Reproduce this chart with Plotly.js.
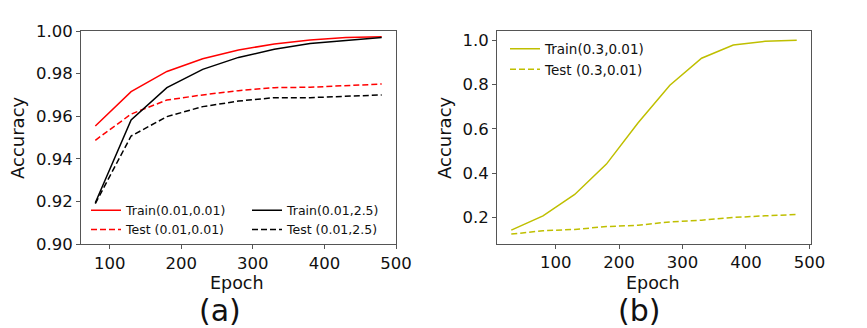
<!DOCTYPE html>
<html>
<head>
<meta charset="utf-8">
<script src="https://cdn.plot.ly/plotly-3.0.1.min.js"></script>
<style>html,body{margin:0;padding:0;background:#fff;}#chart{width:867px;height:328px;}</style>
</head>
<body>
<div id="chart"></div>
<script>
// Panel (a)
const epochsA = [80, 130, 180, 230, 280, 330, 380, 430, 480];
const trainA1 = [0.9554, 0.9715, 0.9810, 0.9870, 0.9911, 0.9939, 0.9958, 0.9969, 0.9973];
const testA1  = [0.9487, 0.9610, 0.9676, 0.9700, 0.9720, 0.9734, 0.9736, 0.9743, 0.9751];
const trainA2 = [0.9194, 0.9582, 0.9734, 0.9820, 0.9876, 0.9914, 0.9941, 0.9956, 0.9969];
const testA2  = [0.9190, 0.9507, 0.9598, 0.9645, 0.9671, 0.9687, 0.9687, 0.9693, 0.9700];
// Panel (b)
const epochsB = [30, 80, 130, 180, 230, 280, 330, 380, 430, 480];
const trainB  = [0.143, 0.2075, 0.304, 0.441, 0.628, 0.797, 0.919, 0.979, 0.9955, 1.0];
const testB   = [0.125, 0.140, 0.146, 0.159, 0.165, 0.180, 0.188, 0.200, 0.2075, 0.2136];

const namesA = ['Train(0.01,0.01)', 'Test (0.01,0.01)', 'Train(0.01,2.5)', 'Test (0.01,2.5)'];
const namesB = ['Train(0.3,0.01)', 'Test (0.3,0.01)'];

const W = 867, H = 328;
const px = v => v / W, py = v => 1 - v / H;
const FONT = 'DejaVu Sans, sans-serif';
const DASH = '6px,3px';
const YEL = '#bfbf00';

const traces = [
  {x: epochsA, y: trainA1, name: namesA[0], mode: 'lines', line: {color: '#ff0000', width: 1.5}, xaxis: 'x', yaxis: 'y', legend: 'legend'},
  {x: epochsA, y: testA1, name: namesA[1], mode: 'lines', line: {color: '#ff0000', width: 1.5, dash: DASH}, xaxis: 'x', yaxis: 'y', legend: 'legend'},
  {x: epochsA, y: trainA2, name: namesA[2], mode: 'lines', line: {color: '#000000', width: 1.5}, xaxis: 'x', yaxis: 'y', legend: 'legend2'},
  {x: epochsA, y: testA2, name: namesA[3], mode: 'lines', line: {color: '#000000', width: 1.5, dash: DASH}, xaxis: 'x', yaxis: 'y', legend: 'legend2'},
  {x: epochsB, y: trainB, name: namesB[0], mode: 'lines', line: {color: YEL, width: 1.5}, xaxis: 'x2', yaxis: 'y2', legend: 'legend3'},
  {x: epochsB, y: testB, name: namesB[1], mode: 'lines', line: {color: YEL, width: 1.5, dash: DASH}, xaxis: 'x2', yaxis: 'y2', legend: 'legend3'}
];

const axCommon = {
  showgrid: false, zeroline: false, showline: true, mirror: true,
  linecolor: '#555', linewidth: 1, ticks: 'outside', ticklen: 4, tickcolor: '#555', tickwidth: 1,
  tickfont: {family: FONT, size: 16.5, color: '#111'}
};

const legCommon = {
  bgcolor: 'rgba(0,0,0,0)', borderwidth: 0, xanchor: 'left', yanchor: 'top',
  tracegroupgap: 0, itemwidth: 30
};

function ann(text, x, y, size, angle) {
  return {text: text, xref: 'paper', yref: 'paper', x: px(x), y: py(y), xanchor: 'center', yanchor: 'middle',
    showarrow: false, textangle: angle || 0, font: {family: FONT, size: size, color: '#111'}};
}

const layout = {
  width: W, height: H, margin: {l: 0, r: 0, t: 0, b: 0},
  paper_bgcolor: '#fff', plot_bgcolor: '#fff',
  showlegend: true,
  xaxis: Object.assign({}, axCommon, {domain: [px(81), px(396)], range: [60, 500], tickvals: [100, 200, 300, 400, 500], anchor: 'y'}),
  yaxis: Object.assign({}, axCommon, {domain: [py(244), py(31)], range: [0.90, 1.00], tickvals: [0.90, 0.92, 0.94, 0.96, 0.98, 1.00], tickformat: '.2f', anchor: 'x'}),
  xaxis2: Object.assign({}, axCommon, {domain: [px(497), px(811)], range: [7.5, 502.5], tickvals: [100, 200, 300, 400, 500], anchor: 'y2'}),
  yaxis2: Object.assign({}, axCommon, {domain: [py(243.5), py(30.7)], range: [0.0825, 1.0434], tickvals: [0.2, 0.4, 0.6, 0.8, 1.0], tickformat: '.1f', anchor: 'x2'}),
  legend: Object.assign({}, legCommon, {x: px(86), y: py(195.5), font: {family: FONT, size: 12.5, color: '#111'}}),
  legend2: Object.assign({}, legCommon, {x: px(247), y: py(195.5), font: {family: FONT, size: 12.5, color: '#111'}}),
  legend3: Object.assign({}, legCommon, {x: px(505), y: py(33.5), font: {family: FONT, size: 13.5, color: '#111'}}),
  annotations: [
    ann('Accuracy', 18, 138, 18, -90),
    ann('Epoch', 237, 283, 17.5),
    ann('(a)', 220, 310, 30),
    ann('Accuracy', 445, 138, 18, -90),
    ann('Epoch', 653, 283, 17.5),
    ann('(b)', 639, 310, 30)
  ]
};

Plotly.newPlot('chart', traces, layout, {displayModeBar: false, staticPlot: true});
</script>
</body>
</html>
